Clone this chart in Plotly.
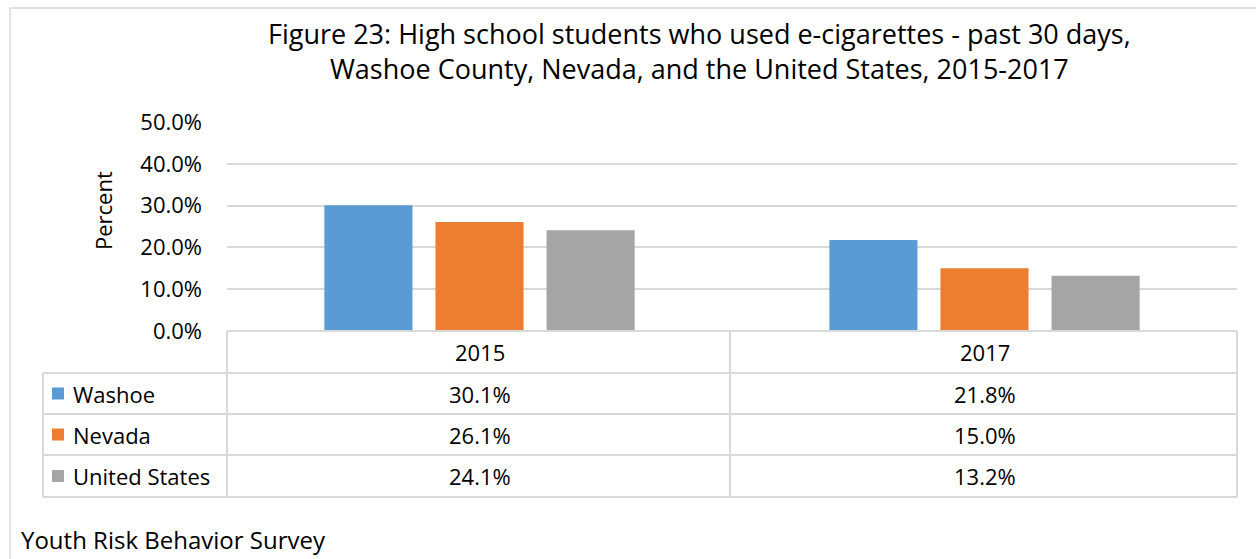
import plotly.graph_objects as go

W, H = 1256, 559

years = ["2015", "2017"]
series_names = ["Washoe", "Nevada", "United States"]
washoe = [30.1, 21.8]
nevada = [26.1, 15.0]
united_states = [24.1, 13.2]
colors = ["#5B9BD5", "#ED7D31", "#A5A5A5"]
y_ticks = [0, 10, 20, 30, 40, 50]
y_tick_text = [f"{v:.1f}%" for v in y_ticks]

title_text = ("Figure 23: High school students who used e-cigarettes - past 30 days,<br>"
              "Washoe County, Nevada, and the United States, 2015-2017")
source_text = "Youth Risk Behavior Survey"

FONT = "Open Sans"
GRID = "#d9d9d9"


def px(x):
    return x / W


def py(y):
    return 1 - y / H


fig = go.Figure()
values = [washoe, nevada, united_states]
for name, vals, col in zip(series_names, values, colors):
    fig.add_trace(go.Bar(x=years, y=vals, name=name, marker=dict(color=col, line=dict(width=0))))

plot_l, plot_r, plot_t, plot_b = 227, 1237, 121.6, 331
row_edges = [331, 373, 414, 455, 497]

shapes = []
# outer frame
shapes.append(dict(type="rect", xref="paper", yref="paper", x0=px(10), x1=px(1300), y0=py(620), y1=py(8),
                   line=dict(color=GRID, width=1.5), fillcolor="rgba(0,0,0,0)", layer="below"))
# table horizontal lines
shapes.append(dict(type="line", xref="paper", yref="paper", x0=px(plot_l), x1=px(plot_r), y0=py(331), y1=py(331),
                   line=dict(color=GRID, width=2)))
for yy in row_edges[1:]:
    shapes.append(dict(type="line", xref="paper", yref="paper", x0=px(43), x1=px(plot_r), y0=py(yy), y1=py(yy),
                       line=dict(color=GRID, width=2)))
# vertical lines
for xx in [plot_l, 730, plot_r]:
    shapes.append(dict(type="line", xref="paper", yref="paper", x0=px(xx), x1=px(xx), y0=py(331), y1=py(497),
                       line=dict(color=GRID, width=2)))
shapes.append(dict(type="line", xref="paper", yref="paper", x0=px(43), x1=px(43), y0=py(373), y1=py(497),
                   line=dict(color=GRID, width=2)))

TF = 22
annotations = []
# header row (category index positions on the category axis)
for ci, yr in enumerate(years):
    annotations.append(dict(x=ci, xref="x", y=py(352), yref="paper", text=yr, showarrow=False,
                            font=dict(family=FONT, size=TF, color="#000"), xanchor="center", yanchor="middle"))
# data rows
for i, (name, vals, col) in enumerate(zip(series_names, values, colors)):
    yc = (row_edges[i + 1] + row_edges[i + 2]) / 2
    shapes.append(dict(type="rect", xref="paper", yref="paper", x0=px(52), x1=px(64), y0=py(yc + 6), y1=py(yc - 6),
                       fillcolor=col, line=dict(width=0)))
    annotations.append(dict(x=px(71), xref="paper", y=py(yc), yref="paper", text=name, showarrow=False,
                            font=dict(family=FONT, size=TF, color="#000"), xanchor="left", yanchor="middle"))
    for ci, v in enumerate(vals):
        annotations.append(dict(x=ci, xref="x", y=py(yc), yref="paper", text=f"{v:.1f}%", showarrow=False,
                                font=dict(family=FONT, size=TF, color="#000"), xanchor="center", yanchor="middle"))

# title
annotations.append(dict(x=px(699), xref="paper", y=py(51), yref="paper", text=title_text, showarrow=False,
                        font=dict(family=FONT, size=27, color="#000"), xanchor="center", yanchor="middle",
                        align="center"))
# y-axis title
annotations.append(dict(x=px(103), xref="paper", y=py(211), yref="paper", text="Percent", showarrow=False,
                        textangle=-90, font=dict(family=FONT, size=TF, color="#000"), xanchor="center",
                        yanchor="middle"))
# source
annotations.append(dict(x=px(19), xref="paper", y=py(539), yref="paper", text=source_text, showarrow=False,
                        font=dict(family=FONT, size=24, color="#000"), xanchor="left", yanchor="middle"))

fig.update_layout(
    width=W, height=H,
    margin=dict(l=0, r=0, t=0, b=0, autoexpand=False),
    paper_bgcolor="white", plot_bgcolor="white",
    barmode="group", bargap=0.34, bargroupgap=0.207,
    showlegend=False,
    xaxis=dict(type="category", range=[-0.5, 1.5], domain=[px(plot_l), px(plot_r)], showticklabels=False,
               showgrid=False, zeroline=False, showline=False, ticks=""),
    yaxis=dict(domain=[py(plot_b), py(plot_t)], range=[0, 50.1], tickmode="array", tickvals=y_ticks,
               ticktext=y_tick_text, showgrid=True, gridcolor=GRID, gridwidth=2, zeroline=False, showline=False,
               ticks="", ticklabelstandoff=24, automargin=False,
               tickfont=dict(family=FONT, size=TF, color="#000")),
    shapes=shapes,
    annotations=annotations,
)

fig.write_html("out.html")
